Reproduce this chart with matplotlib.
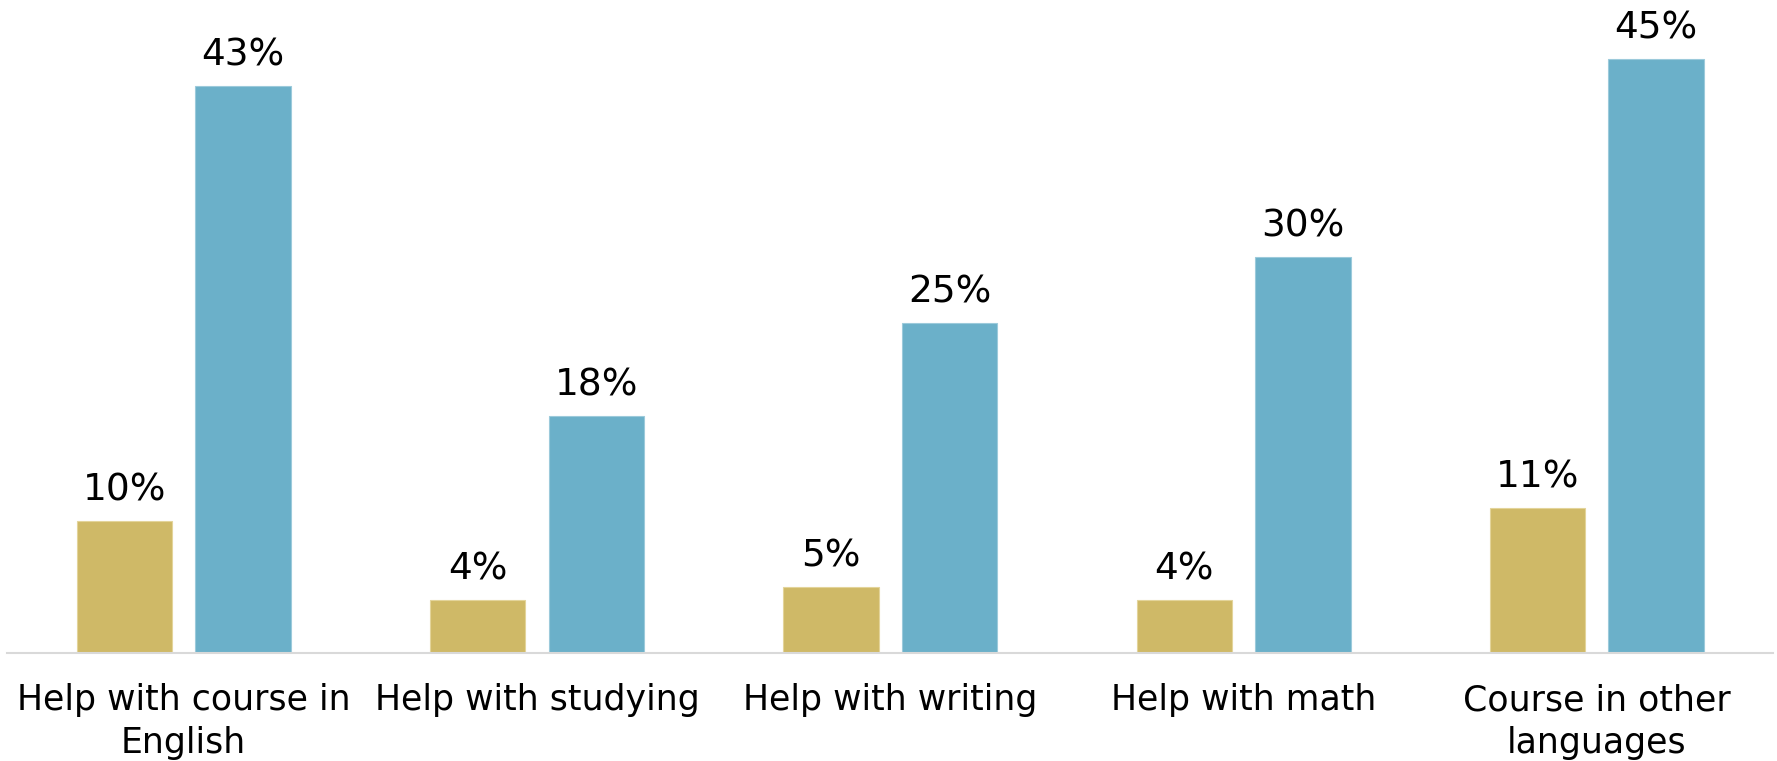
import matplotlib.pyplot as plt
import numpy as np

# Share of respondents by type of help, two groups per category
categories = ['Help with course in\nEnglish', 'Help with studying', 'Help with writing',
              'Help with math', 'Course in other\nlanguages']
series_a = [10, 4, 5, 4, 11]
series_b = [43, 18, 25, 30, 45]

gold = '#CFB967'
blue = '#6BB0C9'

fig = plt.figure(figsize=(17.77, 7.61), dpi=100)
ax = fig.add_axes([0.004, 0.142, 0.994, 0.858])

x = np.arange(len(categories))
w = 0.27
off = 0.168
bars_a = ax.bar(x - off, series_a, width=w, color=gold, edgecolor='#E3D49A', linewidth=0.8)
bars_b = ax.bar(x + off, series_b, width=w, color=blue, edgecolor='#9CCADB', linewidth=0.8)

for bars, vals in ((bars_a, series_a), (bars_b, series_b)):
    for b, v in zip(bars, vals):
        ax.annotate(f'{v}%', (b.get_x() + b.get_width() / 2, v), xytext=(0, 9),
                    textcoords='offset points', ha='center', va='bottom',
                    fontsize=27, color='black', family='DejaVu Sans')

ax.set_xlim(-0.5, len(categories) - 0.5)
ax.set_ylim(0, 49.5)
ax.set_xticks(x)
ax.set_xticklabels(categories, fontsize=25, linespacing=1.3, family='DejaVu Sans')
ax.tick_params(axis='x', length=0, pad=22)
ax.set_yticks([])
for s in ('top', 'right', 'left'):
    ax.spines[s].set_visible(False)
ax.spines['bottom'].set_color('#D9D9D9')
ax.spines['bottom'].set_linewidth(1.5)

fig.savefig('out.png', dpi=100)
